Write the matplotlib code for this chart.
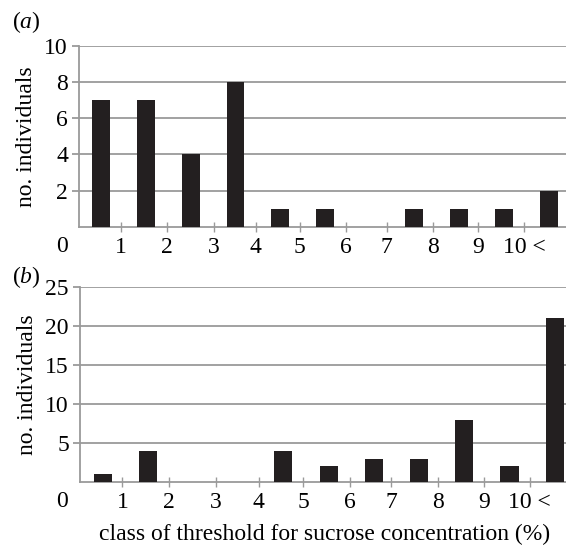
import matplotlib
matplotlib.use("Agg")
import matplotlib.pyplot as plt

plt.rcParams['font.family'] = 'Liberation Serif'
plt.rcParams['mathtext.fontset'] = 'custom'
plt.rcParams['mathtext.rm'] = 'Liberation Serif'
plt.rcParams['mathtext.it'] = 'Liberation Serif:italic'

# threshold classes (bars sit between the tick labels)
classes = list(range(1, 12))
counts_a = [7, 7, 4, 8, 1, 1, 0, 1, 1, 1, 2]
counts_b = [1, 4, 0, 0, 4, 2, 3, 3, 8, 2, 21]

tick_pos = [1.44, 2.47, 3.51, 4.45, 5.44, 6.47, 7.38, 8.42, 9.43, 10.45]
tick_lab = ['1', '2', '3', '4', '5', '6', '7', '8', '9', '10 <']

bar_col = '#231f20'
grey = '#9a9a9a'
fs = 17

fig = plt.figure(figsize=(5.66, 5.45), dpi=100)
ax_a = fig.add_axes([0.1396, 0.584, 0.8604, 0.332])
ax_b = fig.add_axes([0.1413, 0.1156, 0.8587, 0.3583])


def style(ax, counts, yticks, ymax, xmax, zero_xy):
    ax.bar(classes, counts, width=0.4, color=bar_col, zorder=3)
    ax.set_xlim(0.5, xmax)
    ax.set_ylim(0, ymax)
    ax.set_yticks(yticks)
    ax.set_yticklabels([str(t) for t in yticks], fontsize=fs)
    ax.set_xticks(tick_pos)
    ax.set_xticklabels(tick_lab, fontsize=fs)
    ax.grid(axis='y', color=grey, linewidth=1.3, zorder=0)
    for s in ['top', 'right']:
        ax.spines[s].set_visible(False)
    for s in ['left', 'bottom']:
        ax.spines[s].set_color(grey)
        ax.spines[s].set_linewidth(1.3)
    ax.tick_params(axis='y', color=grey, width=1.3, length=5, pad=3)
    ax.tick_params(axis='x', color=grey, width=1.0, length=7,
                   direction='inout', pad=4)
    ax.set_ylabel('no. individuals', fontsize=fs, va='center')
    ax.yaxis.set_label_coords(-0.107, 0.5)
    ax.text(zero_xy[0], zero_xy[1], '0', transform=ax.transAxes,
            fontsize=fs, ha='center', va='center')


style(ax_a, counts_a, [2, 4, 6, 8, 10], 10, 11.39, (-0.035, -0.11))
style(ax_b, counts_b, [5, 10, 15, 20, 25], 25, 11.25, (-0.037, -0.10))

ax_b.set_xlabel('class of threshold for sucrose concentration (%)',
                fontsize=fs, va='center')
ax_b.xaxis.set_label_coords(0.504, -0.271)

fig.text(0.021, 0.96, r'($\mathit{a}$)', fontsize=fs, va='center')
fig.text(0.021, 0.492, r'($\mathit{b}$)', fontsize=fs, va='center')

fig.savefig('out.png', dpi=100)
